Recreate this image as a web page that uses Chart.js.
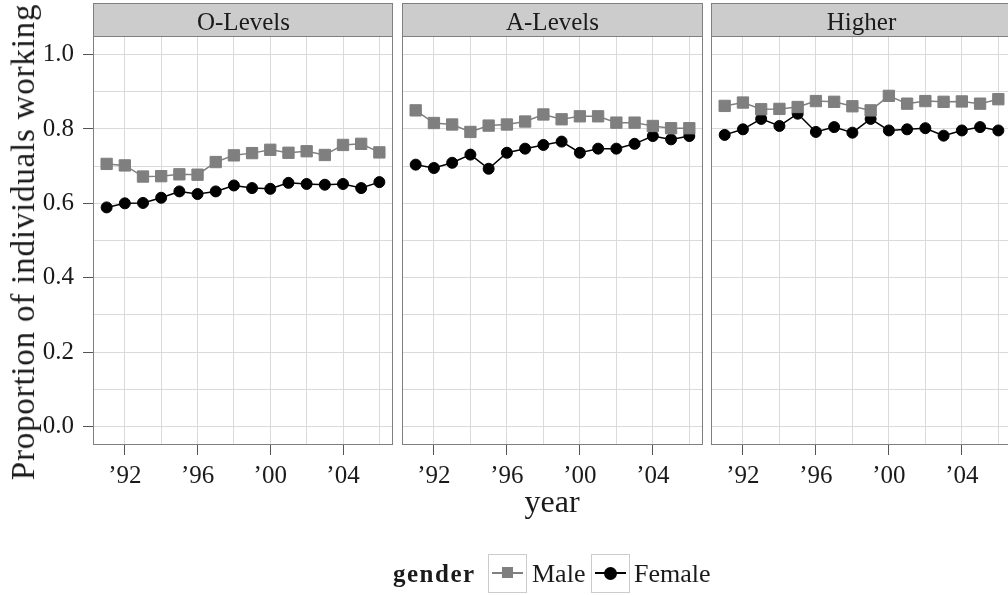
<!DOCTYPE html>
<html lang="en">
<head>
<meta charset="UTF-8">
<title>Proportion of individuals working</title>
<script src="https://cdn.jsdelivr.net/npm/chart.js"></script>
<style>
    html, body { margin: 0; padding: 0; background: #fff; overflow: hidden; }
    #wrap { position: relative; width: 1008px; height: 595px; font-family: "Liberation Serif", "DejaVu Serif", serif; color: #1a1a1a; }
    #wrap canvas { position: absolute; left: 0; top: 0; }
    .ytitle { position: absolute; left: 24px; top: 242px; transform: translate(-50%, -50%) rotate(-90deg); font-size: 33px; letter-spacing: 0.8px; line-height: 1.15; white-space: nowrap; }
    .xtitle { position: absolute; left: 552px; top: 483px; transform: translateX(-50%); font-size: 32px; line-height: 1.15; white-space: nowrap; }
    .leg { position: absolute; top: 559px; font-size: 26px; line-height: 1.15; white-space: nowrap; }
    .leg.title { font-weight: bold; font-size: 25px; letter-spacing: 1.5px; top: 560px; }
    .key { position: absolute; top: 554px; width: 37px; height: 37px; border: 1px solid #cccccc; background: #fff; }
    .key .ln { position: absolute; left: 3px; right: 3px; top: 17px; height: 2px; }
    .key .mk { position: absolute; left: 13px; top: 12px; width: 11px; height: 11px; }
    .key .mk.dot { left: 12px; top: 12px; width: 13px; height: 13px; border-radius: 50%; }
</style>
</head>
<body>
<div id="wrap">
    <canvas id="p1" width="1008" height="595"></canvas>
    <canvas id="p2" width="1008" height="595"></canvas>
    <canvas id="p3" width="1008" height="595"></canvas>
    <div class="ytitle">Proportion of individuals working</div>
    <div class="xtitle">year</div>
    <div class="leg title" style="left:393px">gender</div>
    <div class="key" style="left:488px"><div class="ln" style="background:#7f7f7f"></div><div class="mk" style="background:#7f7f7f"></div></div>
    <div class="leg" style="left:532px">Male</div>
    <div class="key" style="left:591px"><div class="ln" style="background:#000"></div><div class="mk dot" style="background:#000"></div></div>
    <div class="leg" style="left:634px">Female</div>
</div>
<script>
    // data
    const years = [1991, 1992, 1993, 1994, 1995, 1996, 1997, 1998, 1999, 2000, 2001, 2002, 2003, 2004, 2005, 2006];
    const panels = ['O-Levels', 'A-Levels', 'Higher'];

    const oMale   = [0.706, 0.702, 0.672, 0.673, 0.678, 0.677, 0.711, 0.729, 0.735, 0.744, 0.736, 0.740, 0.730, 0.757, 0.760, 0.737];
    const oFemale = [0.589, 0.600, 0.601, 0.615, 0.632, 0.625, 0.632, 0.648, 0.641, 0.639, 0.655, 0.652, 0.650, 0.652, 0.641, 0.657];
    const aMale   = [0.850, 0.816, 0.812, 0.792, 0.809, 0.812, 0.820, 0.839, 0.826, 0.834, 0.834, 0.817, 0.817, 0.808, 0.802, 0.802];
    const aFemale = [0.704, 0.695, 0.709, 0.731, 0.693, 0.736, 0.747, 0.757, 0.766, 0.736, 0.747, 0.747, 0.760, 0.781, 0.772, 0.781];
    const hMale   = [0.862, 0.871, 0.853, 0.854, 0.859, 0.875, 0.873, 0.861, 0.850, 0.889, 0.868, 0.875, 0.873, 0.874, 0.868, 0.880];
    const hFemale = [0.784, 0.799, 0.827, 0.808, 0.841, 0.792, 0.805, 0.790, 0.827, 0.796, 0.799, 0.802, 0.782, 0.796, 0.805, 0.796];

    // grid breaks (major + minor) and the ones that get a label
    const xGrid = [1992, 1994, 1996, 1998, 2000, 2002, 2004, 2006];
    const xLabelled = [1992, 1996, 2000, 2004];
    const yGrid = [0, 0.1, 0.2, 0.3, 0.4, 0.5, 0.6, 0.7, 0.8, 0.9, 1.0];
    const yLabelled = [0, 0.2, 0.4, 0.6, 0.8, 1.0];

    const gridColor = '#dadada';
    const tickColor = '#555555';
    const font = { family: '"Liberation Serif", serif', size: 25 };

    const isYLabel = v => yLabelled.some(l => Math.abs(l - v) < 1e-6);

    // panel border + grey strip with the facet name
    // (the last panel runs past the right edge of the picture, so no right border there)
    const stripPlugin = {
        id: 'strip',
        afterDraw(chart, args, opts) {
            const { ctx, chartArea: a } = chart;
            const w = a.right - a.left + (opts.open ? 4 : 0);
            ctx.save();
            ctx.strokeStyle = '#7f7f7f';
            ctx.lineWidth = 1;
            ctx.strokeRect(a.left + 0.5, a.top + 0.5, w - 1, a.bottom - a.top - 1);
            ctx.fillStyle = '#cccccc';
            ctx.fillRect(a.left, 3, w, a.top - 3);
            ctx.strokeRect(a.left + 0.5, 3.5, w - 1, a.top - 3);
            ctx.fillStyle = '#1a1a1a';
            ctx.font = '25px "Liberation Serif", serif';
            ctx.textAlign = 'center';
            ctx.textBaseline = 'alphabetic';
            ctx.fillText(opts.text, a.left + opts.mid, 30);
            ctx.restore();
        }
    };

    function makePanel(id, title, male, female, padLeft, padRight, showY, xMax) {
        const pts = vals => years.map((yr, i) => ({ x: yr, y: vals[i] }));
        new Chart(document.getElementById(id), {
            type: 'line',
            data: {
                datasets: [{
                    label: 'Male',
                    data: pts(male),
                    borderColor: '#7f7f7f',
                    backgroundColor: '#7f7f7f',
                    borderWidth: 1.5,
                    pointStyle: 'rect',
                    pointRadius: 8,
                    pointBorderWidth: 1,
                    tension: 0
                }, {
                    label: 'Female',
                    data: pts(female),
                    borderColor: '#000000',
                    backgroundColor: '#000000',
                    borderWidth: 1.5,
                    pointStyle: 'circle',
                    pointRadius: 5.5,
                    pointBorderWidth: 1,
                    tension: 0
                }]
            },
            options: {
                responsive: false,
                devicePixelRatio: 1,
                animation: false,
                events: [],
                // no automatic room for point radius, panels are placed by hand
                layout: { autoPadding: false, padding: { left: padLeft, right: padRight, top: 36, bottom: 110 } },
                plugins: {
                    legend: { display: false },
                    tooltip: { enabled: false },
                    strip: { text: title, mid: 150.5, open: xMax < 2006.75 }
                },
                scales: {
                    x: {
                        type: 'linear',
                        min: 1990.25,
                        max: xMax,
                        afterBuildTicks: s => { s.ticks = xGrid.map(v => ({ value: v })); },
                        afterFit: s => { s.height = 40; s.paddingLeft = 0; s.paddingRight = 0; },
                        border: { display: false },
                        grid: {
                            color: gridColor,
                            lineWidth: 1,
                            tickLength: 10,
                            tickColor: c => xLabelled.includes(c.tick.value) ? tickColor : 'rgba(0,0,0,0)'
                        },
                        ticks: {
                            autoSkip: false,
                            maxRotation: 0,
                            padding: 6,
                            color: '#1a1a1a',
                            font: font,
                            callback: v => xLabelled.includes(v) ? '\u2019' + String(v).slice(2) : ''
                        }
                    },
                    y: {
                        min: -0.05,
                        max: 1.05,
                        afterBuildTicks: s => { s.ticks = yGrid.map(v => ({ value: v })); },
                        afterFit: s => { s.width = showY ? 93 : 0; s.paddingTop = 0; s.paddingBottom = 0; },
                        border: { display: false },
                        grid: {
                            color: gridColor,
                            lineWidth: 1,
                            drawTicks: showY,
                            tickLength: 10,
                            tickColor: c => isYLabel(c.tick.value) ? tickColor : 'rgba(0,0,0,0)'
                        },
                        ticks: {
                            display: showY,
                            padding: 9,
                            color: '#1a1a1a',
                            font: font,
                            callback: v => isYLabel(v) ? v.toFixed(1) : ''
                        }
                    }
                }
            },
            plugins: [stripPlugin]
        });
    }

    // each panel is 301px wide for 1990.25..2006.75; the third is cut at the window edge (297px)
    makePanel('p1', panels[0], oMale, oFemale, 0, 615, true, 2006.75);
    makePanel('p2', panels[1], aMale, aFemale, 402, 305, false, 2006.75);
    makePanel('p3', panels[2], hMale, hFemale, 711, 0, false, 2006.53);
</script>
</body>
</html>
